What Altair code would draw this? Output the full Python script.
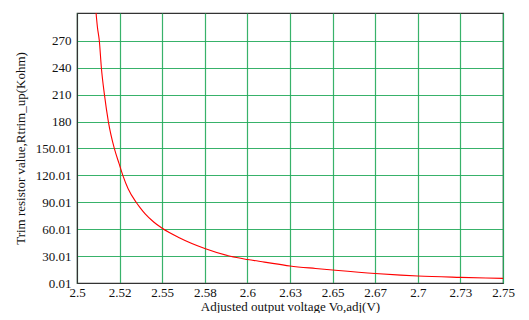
import altair as alt
import pandas as pd

# Curve values
voltage = [2.5110, 2.5120, 2.5131, 2.5143, 2.5161, 2.5184, 2.5219, 2.5247, 2.5269,
           2.5300, 2.5347, 2.5370, 2.5400, 2.5450, 2.5500, 2.5600, 2.5750, 2.5900, 2.6000,
           2.6100, 2.6250, 2.6400, 2.6500, 2.6750, 2.6900, 2.7000, 2.7250, 2.7400, 2.7500]
resistance = [305.0, 285.0, 270.0, 240.0, 210.0, 180.0, 150.0, 133.0, 120.0,
              105.0, 90.0, 84.0, 77.0, 68.0, 61.0, 50.5, 38.5, 29.8, 26.2,
              23.3, 19.0, 16.2, 14.5, 10.6, 8.8, 7.8, 6.3, 5.6, 5.2]

x_tick_values = [2.5, 2.525, 2.55, 2.575, 2.6, 2.625, 2.65, 2.675, 2.7, 2.725, 2.75]
x_tick_labels = ["2.5", "2.52", "2.55", "2.58", "2.6", "2.63", "2.65", "2.67", "2.7", "2.73", "2.75"]
y_tick_values = [0.01, 30.01, 60.01, 90.01, 120.01, 150.01, 180, 210, 240, 270]

df = pd.DataFrame({"V": voltage, "R": resistance})

x_label_expr = "[" + ",".join("'%s'" % s for s in x_tick_labels) + "][round((datum.value-2.5)/0.025)]"

grid_color = "#22aa5a"
font = "Liberation Serif"

chart = alt.Chart(df).mark_line(color="#ff0000", strokeWidth=1.1, clip=True,
                                interpolate="monotone").encode(
    x=alt.X("V:Q",
            scale=alt.Scale(domain=[2.5, 2.75], nice=False, zero=False),
            axis=alt.Axis(values=x_tick_values, labelExpr=x_label_expr,
                          title="Adjusted output voltage Vo,adj(V)",
                          ticks=False, labelPadding=3, titlePadding=1,
                          gridColor=grid_color, gridOpacity=0.9, gridWidth=1.2,
                          domainColor="#333333", labelFlush=False)),
    y=alt.Y("R:Q",
            scale=alt.Scale(domain=[0.01, 301], nice=False, zero=False),
            axis=alt.Axis(values=y_tick_values, labelExpr="'' + datum.value",
                          title="Trim resistor value,Rtrim_up(Kohm)",
                          ticks=False, labelPadding=6, titlePadding=8,
                          gridColor=grid_color, gridOpacity=0.9, gridWidth=1.2,
                          domainColor="#333333")),
).properties(
    width=426, height=270,
    autosize=alt.AutoSizeParams(type="none"),
    padding={"left": 69, "top": 5, "right": 18, "bottom": 30},
).configure_view(
    stroke="#333333", strokeWidth=1.2
).configure_axis(
    labelFont=font, titleFont=font, labelFontSize=13, titleFontSize=13,
    labelColor="#111111", titleColor="#111111", titleFontWeight="normal"
)

chart.save("out.html", embed_options={"renderer": "svg", "actions": False})
